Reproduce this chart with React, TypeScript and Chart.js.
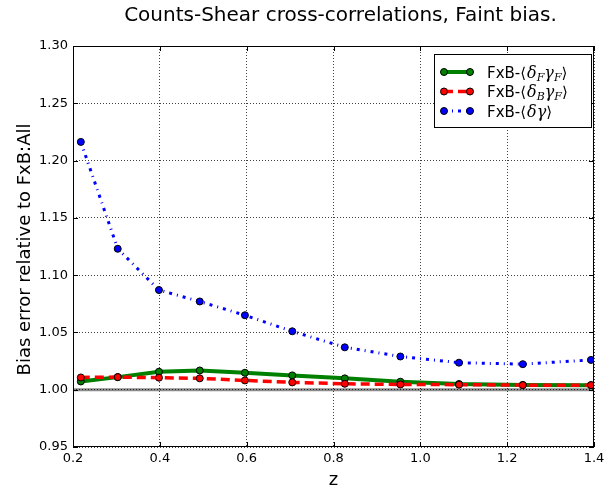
import { useEffect, useRef } from 'react';
import { Chart, registerables } from 'chart.js';

Chart.register(...registerables);

// ---- data ----
const zValues = [0.218, 0.303, 0.398, 0.492, 0.596, 0.705, 0.826, 0.954, 1.089, 1.236, 1.393];
const faintFaint = [1.0072, 1.011, 1.0157, 1.0168, 1.0148, 1.0125, 1.0099, 1.007, 1.005, 1.0042, 1.004];
const brightFaint = [1.0107, 1.011, 1.0105, 1.0099, 1.0081, 1.0064, 1.0052, 1.0046, 1.0044, 1.004, 1.004];
const allAll = [1.2163, 1.123, 1.087, 1.077, 1.065, 1.051, 1.037, 1.029, 1.0236, 1.0223, 1.026];
const xTicks = [0.2, 0.4, 0.6, 0.8, 1.0, 1.2, 1.4];
const yTicks = [0.95, 1.0, 1.05, 1.1, 1.15, 1.2, 1.25, 1.3];

const titleText = 'Counts-Shear cross-correlations, Faint bias.';
const xLabel = 'z';
const yLabel = 'Bias error relative to FxB:All';

type Part = { t: string; math?: boolean; sub?: boolean };
const legendItems: { color: string; dash: number[]; width: number; parts: Part[] }[] = [
  {
    color: '#008000', dash: [], width: 4,
    parts: [{ t: 'FxB-' }, { t: '⟨' }, { t: 'δ', math: true }, { t: 'F', math: true, sub: true }, { t: 'γ', math: true }, { t: 'F', math: true, sub: true }, { t: '⟩' }],
  },
  {
    color: '#ff0000', dash: [9, 5], width: 3.5,
    parts: [{ t: 'FxB-' }, { t: '⟨' }, { t: 'δ', math: true }, { t: 'B', math: true, sub: true }, { t: 'γ', math: true }, { t: 'F', math: true, sub: true }, { t: '⟩' }],
  },
  {
    color: '#0000ff', dash: [3, 5, 1, 5], width: 3,
    parts: [{ t: 'FxB-' }, { t: '⟨' }, { t: 'δ', math: true }, { t: 'γ', math: true }, { t: '⟩' }],
  },
];

const toPts = (ys: number[]) => zValues.map((x, i) => ({ x, y: ys[i] }));

const decor = {
  id: 'decor',
  beforeDraw(chart: any) {
    const ctx = chart.ctx;
    const { left, right } = chart.chartArea;
    const y = chart.scales.y.getPixelForValue(1.0);
    ctx.save();
    ctx.strokeStyle = '#8c8c8c';
    ctx.lineWidth = 3;
    ctx.beginPath();
    ctx.moveTo(left, y);
    ctx.lineTo(right, y);
    ctx.stroke();
    ctx.restore();
  },
  afterDraw(chart: any) {
    const ctx = chart.ctx;
    const { left, right, top, bottom } = chart.chartArea;
    const xs = chart.scales.x;
    const ys = chart.scales.y;
    ctx.save();
    // frame
    ctx.strokeStyle = '#000';
    ctx.lineWidth = 1;
    ctx.strokeRect(left + 0.5, top + 0.5, right - left - 1, bottom - top - 1);
    // inward ticks
    const tl = 5;
    ctx.beginPath();
    xTicks.forEach((v) => {
      const px = Math.round(xs.getPixelForValue(v)) + 0.5;
      ctx.moveTo(px, bottom); ctx.lineTo(px, bottom - tl);
      ctx.moveTo(px, top); ctx.lineTo(px, top + tl);
    });
    yTicks.forEach((v) => {
      const py = Math.round(ys.getPixelForValue(v)) + 0.5;
      ctx.moveTo(left, py); ctx.lineTo(left + tl, py);
      ctx.moveTo(right, py); ctx.lineTo(right - tl, py);
    });
    ctx.stroke();

    // titles
    ctx.fillStyle = '#000';
    ctx.textAlign = 'center';
    ctx.textBaseline = 'alphabetic';
    ctx.font = '20px "DejaVu Sans"';
    ctx.fillText(titleText, 340.5, 21);
    ctx.font = '18px "DejaVu Sans"';
    ctx.fillText(xLabel, (left + right) / 2, 485);
    ctx.save();
    ctx.translate(30, (top + bottom) / 2 + 3);
    ctx.rotate(-Math.PI / 2);
    ctx.fillText(yLabel, 0, 0);
    ctx.restore();

    // legend
    const bx = 434, by = 54, bw = 157, bh = 73;
    ctx.fillStyle = '#fff';
    ctx.fillRect(bx, by, bw, bh);
    ctx.strokeStyle = '#000';
    ctx.lineWidth = 1;
    ctx.strokeRect(bx + 0.5, by + 0.5, bw, bh);
    const rows = [72, 91.5, 111];
    legendItems.forEach((it, i) => {
      const ry = rows[i];
      ctx.save();
      ctx.strokeStyle = it.color;
      ctx.lineWidth = it.width;
      ctx.lineCap = 'butt';
      ctx.setLineDash(it.dash);
      ctx.beginPath();
      ctx.moveTo(444, ry);
      ctx.lineTo(470, ry);
      ctx.stroke();
      ctx.setLineDash([]);
      [444, 470].forEach((mx) => {
        ctx.beginPath();
        ctx.arc(mx, ry, 3.5, 0, Math.PI * 2);
        ctx.fillStyle = it.color;
        ctx.fill();
        ctx.lineWidth = 1;
        ctx.strokeStyle = '#000';
        ctx.stroke();
      });
      ctx.restore();
      let tx = 487;
      ctx.textAlign = 'left';
      ctx.fillStyle = '#000';
      it.parts.forEach((p) => {
        if (p.sub) ctx.font = 'italic 11px "DejaVu Serif"';
        else if (p.math) ctx.font = 'italic 16px "DejaVu Serif"';
        else ctx.font = '15px "DejaVu Sans"';
        const dy = p.sub ? 3 : 0;
        ctx.fillText(p.t, tx, ry + 5.5 + dy);
        tx += ctx.measureText(p.t).width + (p.t === '⟨' ? 1 : 0);
      });
    });
    ctx.restore();
  },
};

export default function App() {
  const ref = useRef<HTMLCanvasElement | null>(null);
  useEffect(() => {
    if (!ref.current) return;
    const tickFont = { family: '"DejaVu Sans"', size: 13 };
    const chart = new Chart(ref.current, {
      type: 'line',
      data: {
        datasets: [
          {
            label: 'FxB-<dF gF>',
            data: toPts(faintFaint),
            borderColor: '#008000',
            backgroundColor: '#008000',
            borderWidth: 4,
            pointRadius: 3.5,
            pointBorderWidth: 1,
            pointBorderColor: '#000',
            pointBackgroundColor: '#008000',
            order: 3,
            tension: 0,
          },
          {
            label: 'FxB-<dB gF>',
            data: toPts(brightFaint),
            borderColor: '#ff0000',
            backgroundColor: '#ff0000',
            borderWidth: 3.5,
            borderDash: [9, 5],
            borderCapStyle: 'butt',
            pointRadius: 3.5,
            pointBorderWidth: 1,
            pointBorderColor: '#000',
            pointBackgroundColor: '#ff0000',
            order: 2,
            tension: 0,
          },
          {
            label: 'FxB-<d g>',
            data: toPts(allAll),
            borderColor: '#0000ff',
            backgroundColor: '#0000ff',
            borderWidth: 3,
            borderDash: [3, 5, 1, 5],
            borderCapStyle: 'butt',
            pointRadius: 3.5,
            pointBorderWidth: 1,
            pointBorderColor: '#000',
            pointBackgroundColor: '#0000ff',
            order: 1,
            tension: 0,
          },
        ],
      },
      options: {
        animation: false,
        responsive: false,
        layout: { padding: { left: 0, right: 20, top: 46, bottom: 0 } },
        plugins: { legend: { display: false }, title: { display: false }, tooltip: { enabled: false } },
        scales: {
          x: {
            type: 'linear',
            min: 0.2,
            max: 1.4,
            afterBuildTicks: (s: any) => { s.ticks = xTicks.map((v) => ({ value: v })); },
            afterFit: (s: any) => { s.height = 44; },
            ticks: { font: tickFont, color: '#000', padding: 4, maxRotation: 0, autoSkip: false, callback: (v: any) => Number(v).toFixed(1) },
            grid: { color: 'rgba(0,0,0,0.75)', lineWidth: 1, drawTicks: false },
            border: { display: false, dash: [1, 2] },
          },
          y: {
            type: 'linear',
            min: 0.95,
            max: 1.3,
            afterBuildTicks: (s: any) => { s.ticks = yTicks.map((v) => ({ value: v })); },
            afterFit: (s: any) => { s.width = 73; },
            ticks: { font: tickFont, color: '#000', padding: 5, autoSkip: false, callback: (v: any) => Number(v).toFixed(2) },
            grid: { color: 'rgba(0,0,0,0.75)', lineWidth: 1, drawTicks: false },
            border: { display: false, dash: [1, 2] },
          },
        },
      } as any,
      plugins: [decor],
    });
    return () => chart.destroy();
  }, []);
  return (
    <div style={{ position: 'fixed', left: 0, top: 0, width: 614, height: 491, background: '#fff' }}>
      <canvas ref={ref} width={614} height={491} style={{ width: 614, height: 491, display: 'block' }} />
    </div>
  );
}
